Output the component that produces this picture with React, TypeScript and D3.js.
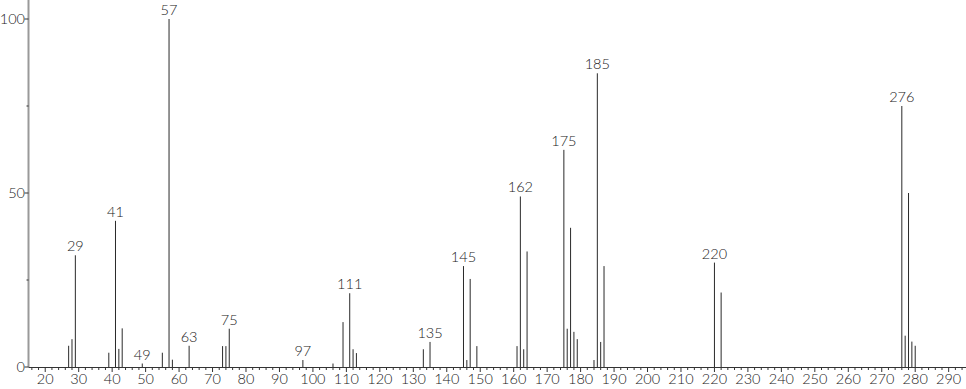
import React from "react";
import * as d3 from "d3";

const mz = [27, 28, 29, 39, 41, 42, 43, 49, 55, 57, 58, 63, 73, 74, 75, 97, 106, 109, 111, 112, 113, 133, 135, 145, 146, 147, 149, 161, 162, 163, 164, 175, 176, 177, 178, 179, 184, 185, 186, 187, 220, 222, 276, 277, 278, 279, 280];
const intensity = [6.1, 8, 32.1, 4.1, 42, 5.2, 11.1, 1, 4.1, 100, 2.1, 6.1, 6, 6, 11, 2, 1, 12.9, 21.2, 5.1, 4, 5.1, 7.2, 29, 2, 25.3, 6, 6, 49, 5.1, 33.2, 62.4, 11, 40, 10.1, 8, 2, 84.4, 7.2, 29, 30, 21.4, 75, 9, 50, 7.3, 6.1];
const labeledPeaks = [29, 41, 49, 57, 63, 75, 97, 111, 135, 145, 162, 175, 185, 220, 276];
const xTickLabels = d3.range(20, 291, 10);
const yTickLabels = [0, 50, 100];
const yMinorTicks = [25, 75];

export default function App() {
  const W = 966, H = 389;
  const x = d3.scaleLinear().domain([15, 295]).range([28.5, 965.4]);
  const y = d3.scaleLinear().domain([0, 100]).range([367, 19]);
  const base = y(0);
  const font = "Lato, 'DejaVu Sans', sans-serif";
  const minor = d3.range(16, 295, 2);
  return (
    <svg width={W} height={H} style={{ position: "absolute", left: 0, top: 0, background: "#fff" }}>
      {mz.map((m, i) => (
        <line key={m} x1={x(m)} x2={x(m)} y1={base} y2={y(intensity[i])} stroke="#2a2a2a" strokeWidth={1} />
      ))}
      {mz.map((m, i) =>
        labeledPeaks.includes(m) ? (
          <text key={"l" + m} x={x(m)} y={y(intensity[i]) - 4} textAnchor="middle" fontFamily={font} fontWeight={300} fontSize={14.5} fill="#222">
            {m}
          </text>
        ) : null
      )}
      <line x1={28.5} x2={28.5} y1={0} y2={base} stroke="#999" strokeWidth={2} />
      {yTickLabels.map((v) => (
        <g key={"y" + v}>
          <line x1={24.5} x2={28.5} y1={y(v)} y2={y(v)} stroke="#333" />
          <text x={25} y={y(v) + 5} textAnchor="end" fontFamily={font} fontWeight={300} fontSize={14.5} fill="#222">
            {v}
          </text>
        </g>
      ))}
      {yMinorTicks.map((v) => (
        <line key={"ym" + v} x1={26.5} x2={28.5} y1={y(v)} y2={y(v)} stroke="#333" />
      ))}
      <line x1={28.5} x2={W} y1={base + 0.5} y2={base + 0.5} stroke="#333" strokeWidth={1} />
      {minor.map((v) => (
        <line key={"xm" + v} x1={x(v)} x2={x(v)} y1={base} y2={base + (v % 10 === 0 ? 5 : 3)} stroke="#333" />
      ))}
      {xTickLabels.map((v) => (
        <text key={"x" + v} x={x(v)} y={384} textAnchor="middle" fontFamily={font} fontWeight={300} fontSize={14.5} fill="#222">
          {v}
        </text>
      ))}
    </svg>
  );
}
